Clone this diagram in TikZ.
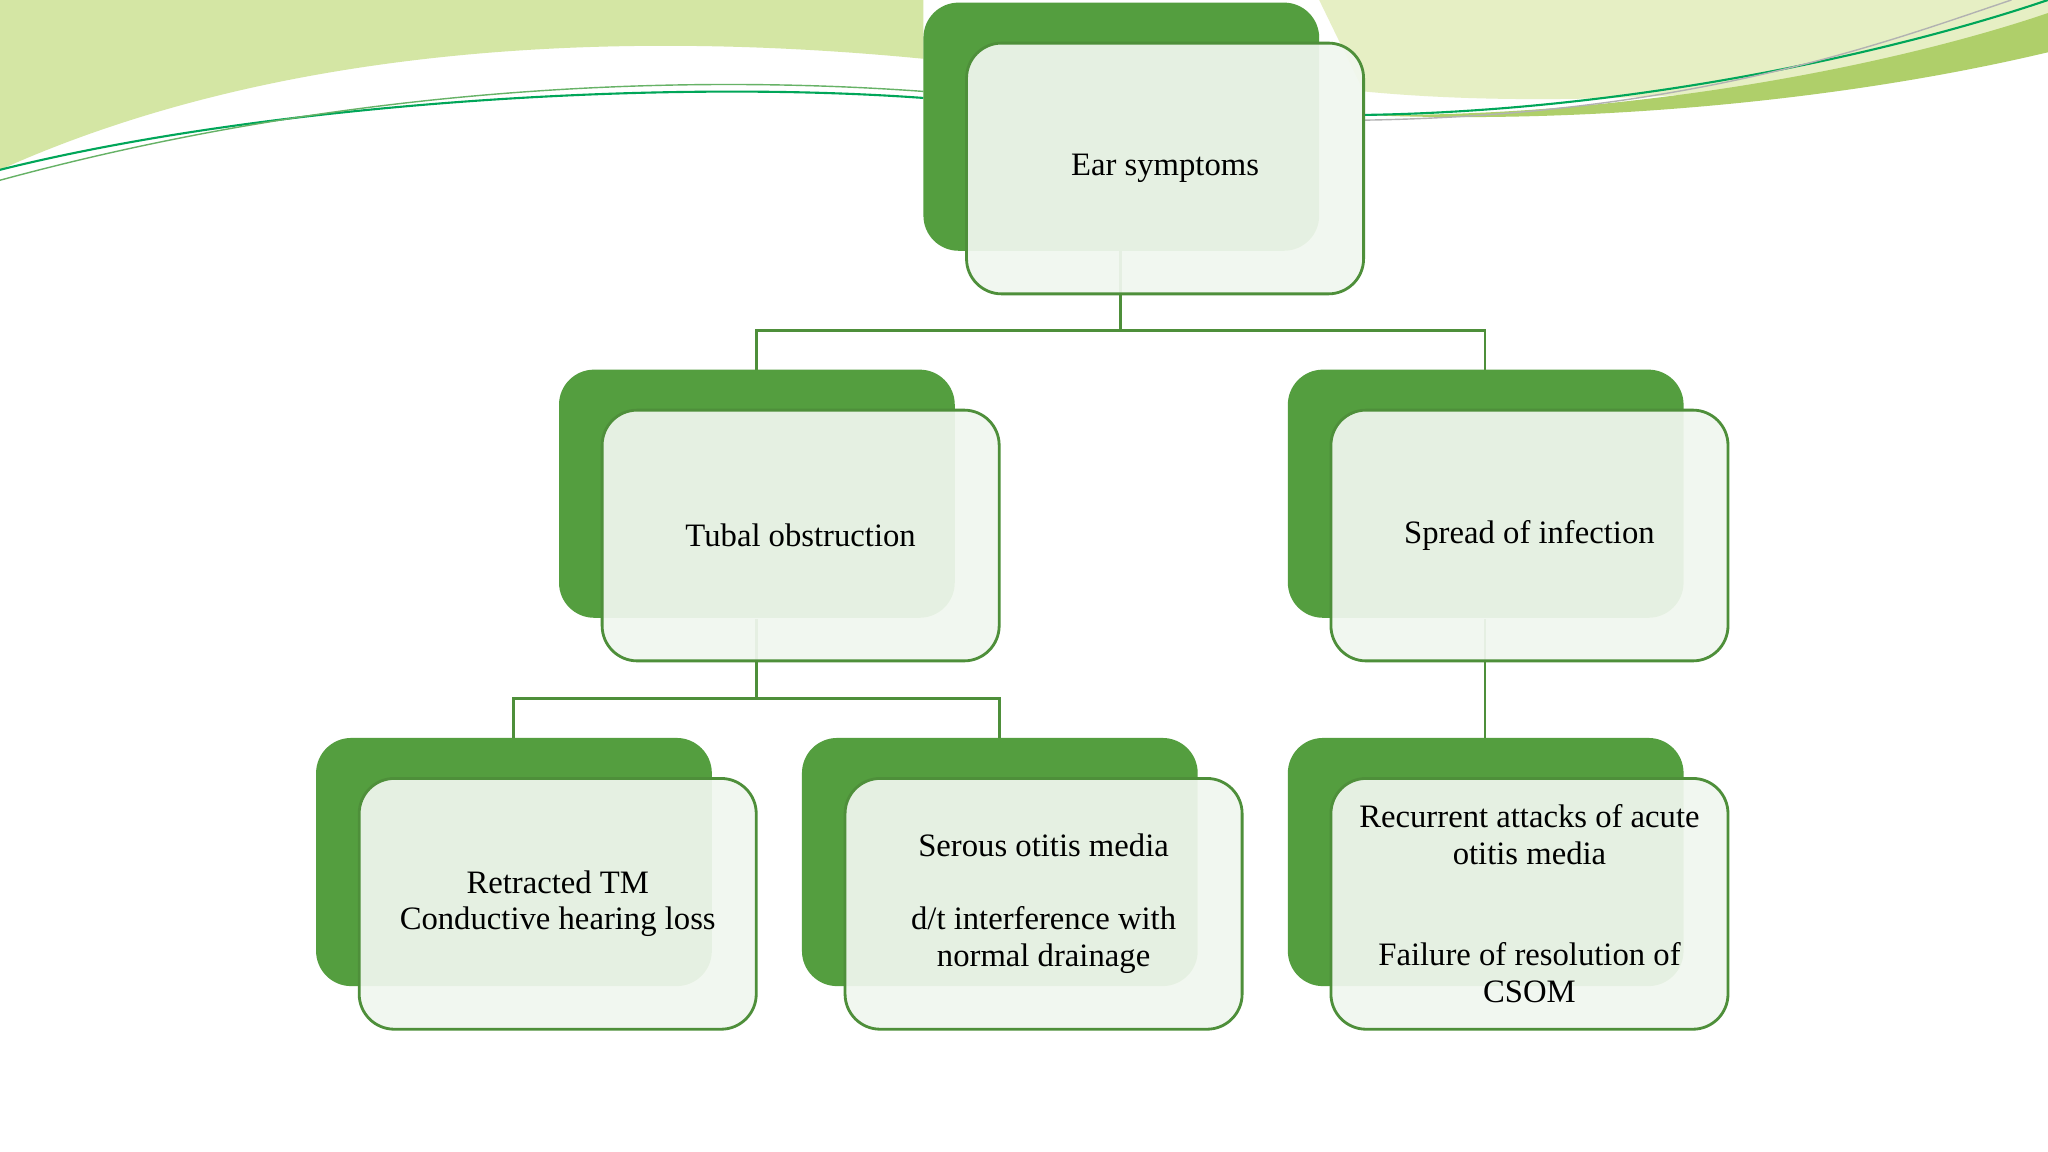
\documentclass[tikz,border=0pt]{standalone}
\usepackage{fontspec}
\setmainfont{Liberation Serif}
\definecolor{dg}{HTML}{549E3F}
\definecolor{lg}{HTML}{F1F7EF}
\definecolor{ln}{HTML}{4E8F3A}
\definecolor{sw1}{HTML}{D4E6A4}
\definecolor{sw2}{HTML}{E6EFC4}
\definecolor{sw3}{HTML}{AFCF6A}
\begin{document}
\begin{tikzpicture}[x=0.013061cm,y=-0.013061cm,
 back/.style={fill=dg,rounded corners=10pt},
 front/.style={draw=ln,line width=0.8pt,fill=lg,fill opacity=0.93,rounded corners=10pt},
 lbl/.style={align=center,font=\fontsize{9.3}{10.4}\selectfont,text=black},
 conn/.style={draw=ln,line width=0.8pt}]
\useasboundingbox (0,0) rectangle (1568,882);
\fill[white] (0,0) rectangle (1568,882);
% background swooshes
\fill[sw1] (0,130) .. controls (200,40) and (450,20) .. (707,45) -- (707,0) -- (0,0) -- cycle;
\fill[sw2] (1010,0) -- (1568,0) -- (1568,40) .. controls (1400,70) and (1200,85) .. (1044,70) -- (1010,0) -- cycle;
\fill[sw3] (1044,88) .. controls (1250,90) and (1450,50) .. (1568,10) -- (1568,40) .. controls (1400,80) and (1200,95) .. (1044,88) -- cycle;
\draw[teal!70!green,line width=0.6pt] (0,130) .. controls (200,80) and (500,60) .. (707,75);
\draw[green!50!black!60,line width=0.4pt] (0,138) .. controls (250,70) and (500,55) .. (707,70);
\draw[teal!70!green,line width=0.6pt] (1044,88) .. controls (1250,85) and (1450,40) .. (1568,0);
\draw[gray!60,line width=0.4pt] (1044,92) .. controls (1300,88) and (1450,30) .. (1540,0);
% connectors
\coordinate (j1) at (858,253);
\coordinate (j2) at (579,535);
\draw[conn] (858,192) -- (j1) -| (579,283);
\draw[conn] (j1) -| (1137,283);
\draw[conn] (579,474) -- (j2) -| (393,565);
\draw[conn] (j2) -| (765,565);
\draw[conn] (1137,474) -- (1137,565);
% boxes
\foreach \n/\x/\y in {a/707/2,b/428/283,c/986/283,d/242/565,e/614/565,f/986/565}{
 \fill[back] (\x,\y) rectangle ++(303,190);
 \path[front] (\x+33,\y+31) rectangle ++(304,192);
 \coordinate (\n) at (\x+185,\y+127);
}
\node[lbl] (ta) at (892,129) {Ear symptoms};
\node[lbl] (tb) at (613,410) {Tubal obstruction};
\node[lbl] (tc) at (1171,410) {Spread of infection};
\node[lbl] (td) at (427,692) {Retracted TM\\Conductive hearing loss};
\node[lbl] (te) at (799,692) {Serous otitis media\\[10.4pt]d/t interference with\\normal drainage};
\node[lbl] (tf) at (1171,692) {Recurrent attacks of acute\\otitis media\\[18.5pt]Failure of resolution of\\CSOM};
\end{tikzpicture}
\end{document}
